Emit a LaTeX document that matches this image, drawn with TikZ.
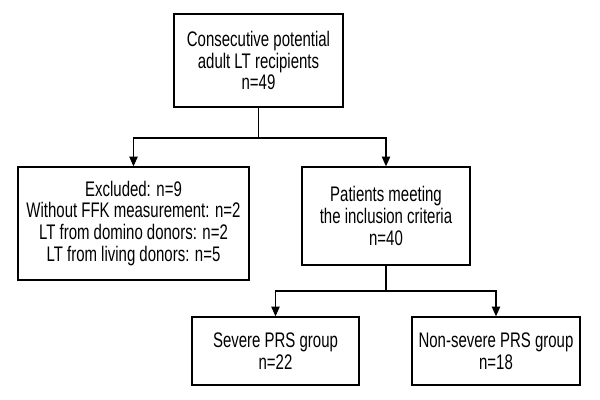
\documentclass[tikz,border=0pt]{standalone}
\usepackage{fontspec}
\setmainfont[FakeStretch=0.71]{Liberation Sans}
\usetikzlibrary{arrows.meta}

\begin{document}
\begin{tikzpicture}[x=0.025cm, y=-0.025cm,
		box/.style={draw, line width=0.9pt, align=center, inner sep=2pt,
			font=\fontsize{15pt}{15.6pt}\selectfont},
		link/.style={line width=0.9pt},
		arr/.style={line width=0.9pt, -{Triangle[length=7pt, width=6pt]}}]
			\useasboundingbox (0,0) rectangle (600,400);

			% boxes
			\node[box, minimum width=4.225cm, minimum height=2.325cm] (recip) at (258.5,60.5)
				{Consecutive potential\\adult LT recipients\\n=49};
			\node[box, minimum width=5.775cm, minimum height=2.825cm] (excl) at (133.5,223.5)
				{Excluded: n=9\\Without FFK measurement: n=2\\LT from domino donors: n=2\\LT from living donors: n=5};
			\node[box, minimum width=4.2cm, minimum height=2.45cm] (incl) at (386,216)
				{Patients meeting\\the inclusion criteria\\n=40};
			\node[box, minimum width=4.175cm, minimum height=1.7cm] (severe) at (275.5,351)
				{Severe PRS group\\n=22};
			\node[box, minimum width=4.2cm, minimum height=1.7cm] (nonsev) at (496,351)
				{Non-severe PRS group\\n=18};

			% branch points
			\coordinate (split1) at (258.5,138);
			\coordinate (split2) at (386,291);

			% connectors
			\draw[link] (recip) -- (split1);
			\draw[arr] (split1) -| (excl.north);
			\draw[arr] (split1) -| (incl.north);
			\draw[link] (incl) -- (split2);
			\draw[arr] (split2) -| (severe.north);
			\draw[arr] (split2) -| (nonsev.north);
		\end{tikzpicture}
\end{document}
